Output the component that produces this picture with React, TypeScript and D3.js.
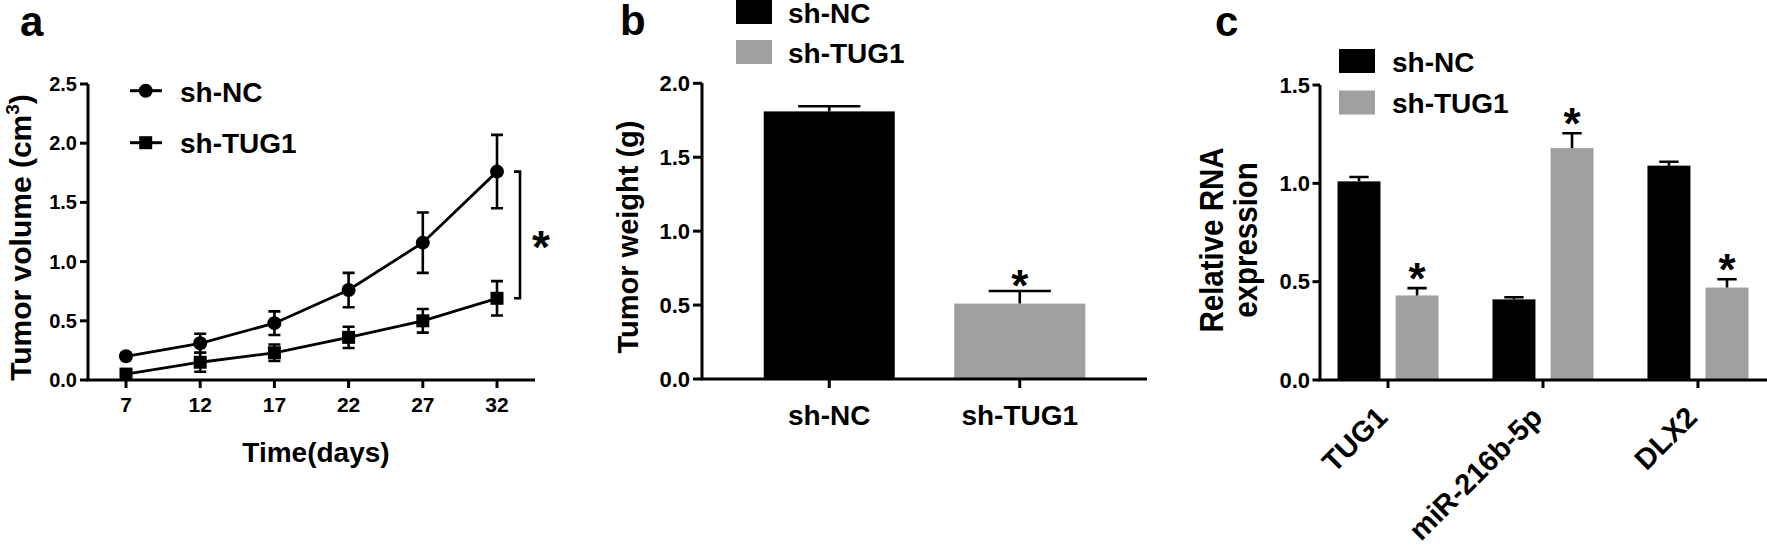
import React from "react";
import * as d3 from "d3";

const FONT = "'Liberation Sans', Arial, Helvetica, sans-serif";
const GRAY = "#a0a0a0";

// Panel a: tumor volume over time
const days = [7, 12, 17, 22, 27, 32];
const volNC = [0.2, 0.31, 0.48, 0.76, 1.16, 1.76];
const volNCErr = [0.02, 0.08, 0.1, 0.145, 0.255, 0.31];
const volTUG = [0.05, 0.15, 0.23, 0.36, 0.5, 0.69];
const volTUGErr = [0.02, 0.08, 0.07, 0.09, 0.1, 0.145];
const yTicksA = [0, 0.5, 1, 1.5, 2, 2.5];

// Panel b: tumor weight
const groupsB = ["sh-NC", "sh-TUG1"];
const weights = [1.81, 0.51];
const weightErr = [0.035, 0.085];
const yTicksB = [0, 0.5, 1, 1.5, 2];

// Panel c: relative RNA expression
const genes = ["TUG1", "miR-216b-5p", "DLX2"];
const rnaNC = [1.01, 0.41, 1.09];
const rnaNCErr = [0.022, 0.011, 0.02];
const rnaTUG = [0.43, 1.18, 0.47];
const rnaTUGErr = [0.037, 0.075, 0.042];
const yTicksC = [0, 0.5, 1, 1.5];

const seriesNames = ["sh-NC", "sh-TUG1"];

function Star({ x, y, size = 44 }: { x: number; y: number; size?: number }) {
  return (
    <text x={x} y={y} fontSize={size} textAnchor="middle" fontWeight="bold">
      *
    </text>
  );
}

function PanelA() {
  const x = d3.scaleLinear().domain([4.44, 34.56]).range([88, 535]);
  const y = d3.scaleLinear().domain([0, 2.5]).range([380, 84]);
  const line = d3
    .line<number>()
    .x((_, i) => x(days[i]))
    .y((d) => y(d));
  const cap = 6;
  const errBars = (vals: number[], errs: number[], key: string) =>
    vals.map((v, i) => {
      const cx = x(days[i]);
      const y1 = y(v + errs[i]);
      const y0 = y(v - errs[i]);
      return (
        <path
          key={key + i}
          d={`M${cx - cap},${y1}H${cx + cap}M${cx},${y1}V${y0}M${cx - cap},${y0}H${cx + cap}`}
          stroke="#000"
          strokeWidth={2.6}
          fill="none"
        />
      );
    });
  const brX = x(days[5]) + 23;
  const brTop = y(volNC[5]);
  const brBot = y(volTUG[5]);
  return (
    <g>
      <text x={20} y={36} fontSize={42}>a</text>
      {/* axes */}
      <path d={`M${x.range()[0]},${y(2.5)}V${y(0)}H${x.range()[1]}`} stroke="#000" strokeWidth={3} fill="none" />
      {yTicksA.map((t) => (
        <g key={t}>
          <line x1={80} x2={88} y1={y(t)} y2={y(t)} stroke="#000" strokeWidth={3} />
          <text x={77} y={y(t) + 7} fontSize={20} textAnchor="end">{d3.format(".1f")(t)}</text>
        </g>
      ))}
      {days.map((d) => (
        <g key={d}>
          <line x1={x(d)} x2={x(d)} y1={380} y2={388} stroke="#000" strokeWidth={3} />
          <text x={x(d)} y={412} fontSize={21} textAnchor="middle">{d}</text>
        </g>
      ))}
      <text x={x(19.8)} y={462} fontSize={28} textAnchor="middle">Time(days)</text>
      <g transform={`translate(31,237.5) rotate(-90)`}>
        <text x={0} y={0} fontSize={30} textAnchor="middle">
          Tumor volume (cm<tspan fontSize={19} dy={-12}>3</tspan><tspan dy={12}>)</tspan>
        </text>
      </g>
      {/* lines */}
      <path d={line(volNC) || ""} stroke="#000" strokeWidth={2.8} fill="none" />
      <path d={line(volTUG) || ""} stroke="#000" strokeWidth={2.8} fill="none" />
      {errBars(volNC, volNCErr, "nc")}
      {errBars(volTUG, volTUGErr, "tg")}
      {volNC.map((v, i) => (
        <circle key={"c" + i} cx={x(days[i])} cy={y(v)} r={7} fill="#000" />
      ))}
      {volTUG.map((v, i) => (
        <rect key={"s" + i} x={x(days[i]) - 6.5} y={y(v) - 6.5} width={13} height={13} fill="#000" />
      ))}
      {/* significance bracket */}
      <path d={`M${brX - 6},${brTop}H${brX}V${brBot}H${brX - 6}`} stroke="#000" strokeWidth={2.6} fill="none" />
      <Star x={brX + 21} y={(brTop + brBot) / 2 + 28} size={46} />
      {/* legend */}
      <line x1={130} x2={162} y1={90.7} y2={90.7} stroke="#000" strokeWidth={3} />
      <circle cx={145.7} cy={90.7} r={7} fill="#000" />
      <text x={180} y={102} fontSize={28}>{seriesNames[0]}</text>
      <line x1={130} x2={162} y1={142.7} y2={142.7} stroke="#000" strokeWidth={3} />
      <rect x={139.2} y={136.2} width={13} height={13} fill="#000" />
      <text x={180} y={153} fontSize={28}>{seriesNames[1]}</text>
    </g>
  );
}

function PanelB() {
  const x = d3.scaleBand<string>().domain(groupsB).range([702, 1147]).paddingInner(0.312).paddingOuter(0.324);
  const y = d3.scaleLinear().domain([0, 2]).range([379, 83.3]);
  const bw = x.bandwidth();
  const capW = bw * 0.475;
  return (
    <g>
      <text x={620} y={35} fontSize={42}>b</text>
      {weights.map((v, i) => {
        const g = groupsB[i];
        const cx = (x(g) as number) + bw / 2;
        const top = y(v + weightErr[i]);
        return (
          <g key={g}>
            <rect x={x(g)} y={y(v)} width={bw} height={y(0) - y(v)} fill={i === 0 ? "#000" : GRAY} />
            <path d={`M${cx},${y(v)}V${top}M${cx - capW / 2},${top}H${cx + capW / 2}`} stroke="#000" strokeWidth={2.6} fill="none" />
            {i === 1 && <Star x={cx} y={top + 10} />}
          </g>
        );
      })}
      <path d={`M${x.range()[0]},${y(2)}V${y(0)}H${x.range()[1]}`} stroke="#000" strokeWidth={3} fill="none" />
      {yTicksB.map((t) => (
        <g key={t}>
          <line x1={693} x2={702} y1={y(t)} y2={y(t)} stroke="#000" strokeWidth={3} />
          <text x={690} y={y(t) + 7.5} fontSize={22} textAnchor="end">{d3.format(".1f")(t)}</text>
        </g>
      ))}
      {groupsB.map((g) => {
        const cx = (x(g) as number) + bw / 2;
        return (
          <g key={g}>
            <line x1={cx} x2={cx} y1={379} y2={388} stroke="#000" strokeWidth={3} />
            <text x={cx} y={425} fontSize={28} textAnchor="middle">{g}</text>
          </g>
        );
      })}
      <g transform={`translate(638,237) rotate(-90) scale(1,1.04)`}>
        <text x={0} y={0} fontSize={29} textAnchor="middle">Tumor weight (g)</text>
      </g>
      {/* legend */}
      <rect x={736} y={0} width={36} height={24} fill="#000" />
      <text x={788} y={23} fontSize={28}>{seriesNames[0]}</text>
      <rect x={736} y={40} width={36} height={24} fill={GRAY} />
      <text x={788} y={63} fontSize={28}>{seriesNames[1]}</text>
    </g>
  );
}

function PanelC() {
  const x = d3.scaleBand<string>().domain(genes).range([1320, 1766]).paddingInner(0.348).paddingOuter(0.113);
  const sub = d3.scaleBand<string>().domain(seriesNames).range([0, x.bandwidth()]).paddingInner(0.26);
  const y = d3.scaleLinear().domain([0, 1.5]).range([380, 85]);
  const bw = sub.bandwidth();
  const capW = bw * 0.45;
  const series = [
    { vals: rnaNC, errs: rnaNCErr, fill: "#000", star: false },
    { vals: rnaTUG, errs: rnaTUGErr, fill: GRAY, star: true },
  ];
  return (
    <g>
      <text x={1215} y={36} fontSize={42}>c</text>
      {genes.map((g, gi) => (
        <g key={g}>
          {series.map((s, si) => {
            const bx = (x(g) as number) + (sub(seriesNames[si]) as number);
            const cx = bx + bw / 2;
            const v = s.vals[gi];
            const top = y(v + s.errs[gi]);
            return (
              <g key={si}>
                <rect x={bx} y={y(v)} width={bw} height={y(0) - y(v)} fill={s.fill} />
                <path d={`M${cx},${y(v)}V${top}M${cx - capW / 2},${top}H${cx + capW / 2}`} stroke="#000" strokeWidth={2.6} fill="none" />
                {s.star && <Star x={cx} y={top + 6} />}
              </g>
            );
          })}
        </g>
      ))}
      <path d={`M${x.range()[0]},${y(1.5)}V${y(0)}H${x.range()[1] + 2}`} stroke="#000" strokeWidth={3} fill="none" />
      {yTicksC.map((t) => (
        <g key={t}>
          <line x1={1312.5} x2={1320} y1={y(t)} y2={y(t)} stroke="#000" strokeWidth={3} />
          <text x={1310} y={y(t) + 7.5} fontSize={22} textAnchor="end">{d3.format(".1f")(t)}</text>
        </g>
      ))}
      {genes.map((g) => {
        const cx = (x(g) as number) + x.bandwidth() / 2;
        return (
          <g key={g}>
            <line x1={cx} x2={cx} y1={380} y2={388} stroke="#000" strokeWidth={3} />
            <text transform={`translate(${cx + 1},${419}) rotate(-45)`} fontSize={29} textAnchor="end">{g}</text>
          </g>
        );
      })}
      <g transform={`translate(1223,240) rotate(-90) scale(1,1.15)`}>
        <text x={0} y={0} fontSize={29.5} textAnchor="middle">Relative RNA</text>
      </g>
      <g transform={`translate(1257,240) rotate(-90) scale(1,1.15)`}>
        <text x={0} y={0} fontSize={29.5} textAnchor="middle">expression</text>
      </g>
      {/* legend */}
      <rect x={1339} y={49} width={36} height={24} fill="#000" />
      <text x={1392} y={72} fontSize={28}>{seriesNames[0]}</text>
      <rect x={1339} y={90.5} width={36} height={24} fill={GRAY} />
      <text x={1392} y={113} fontSize={28}>{seriesNames[1]}</text>
    </g>
  );
}

export default function App() {
  return (
    <svg
      width={1767}
      height={549}
      viewBox="0 0 1767 549"
      style={{ position: "absolute", left: 0, top: 0, background: "#fff", display: "block" }}
      fontFamily={FONT}
      fontWeight="bold"
    >
      <rect x={0} y={0} width={1767} height={549} fill="#fff" />
      <PanelA />
      <PanelB />
      <PanelC />
    </svg>
  );
}
